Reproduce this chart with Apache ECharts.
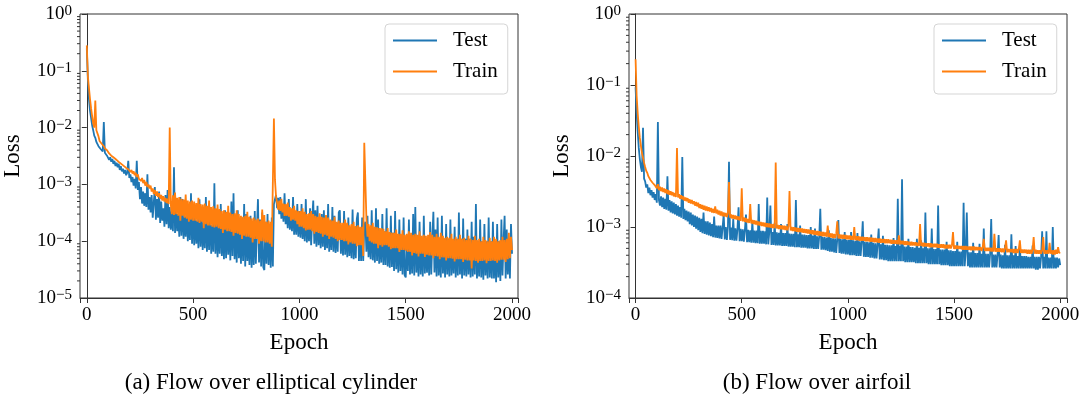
<!DOCTYPE html>
<html>
<head>
<meta charset="utf-8">
<script src="https://cdn.jsdelivr.net/npm/echarts@6/dist/echarts.min.js"></script>
<style>
  html, body { margin: 0; padding: 0; background: #fff; }
  #chart { width: 1080px; height: 396px; }
</style>
</head>
<body>
<div id="chart"></div>
<script>
// losses every 5 epochs (0..2000), one row = 100 epochs
var step = 5;
var epochs = [];
for (var e = 0; e <= 2000; e += step) epochs.push(e);

var xTicks = [0, 500, 1000, 1500, 2000];
var decadesA = [-5, -4, -3, -2, -1, 0];   // (a) y tick exponents
var decadesB = [-4, -3, -2, -1, 0];       // (b) y tick exponents

// (a) Flow over elliptical cylinder
var testA = [
  2.5e-1,7e-2,3.2e-2,2.0e-2,1.5e-2,1.1e-2,9e-3,7.2e-3,6.6e-3,5.6e-3,5.6e-3,4.7e-3,4.9e-3,4.2e-3,4.4e-3,3.8e-3,1.25e-2,3.6e-3,3.7e-3,3.2e-3,
  3.3e-3,2.7e-3,3.0e-3,2.5e-3,2.8e-3,2.3e-3,2.6e-3,2.1e-3,2.4e-3,2.0e-3,2.3e-3,1.8e-3,2.1e-3,1.7e-3,1.9e-3,1.55e-3,1.8e-3,1.45e-3,1.6e-3,2.6e-3,
  1.3e-3,1.5e-3,1.1e-3,1.35e-3,9.5e-4,1.25e-3,8.5e-4,2.6e-3,8e-4,1.1e-3,5.5e-4,9e-4,4.6e-4,7.5e-4,4.2e-4,7e-4,4.0e-4,1.5e-3,3.6e-4,6e-4,
  3.2e-4,6.5e-4,2.6e-4,4.8e-4,9e-4,2.4e-4,5.5e-4,2.6e-4,7.5e-4,2.1e-4,5e-4,2.3e-4,3.8e-4,1.8e-4,6.5e-4,2.0e-4,8e-4,1.7e-4,4.0e-4,1.6e-4,
  3.4e-4,1.5e-4,2.0e-3,1.4e-4,4.5e-4,1.5e-4,3.0e-4,1.2e-4,6.0e-4,1.25e-4,5.5e-4,1.1e-4,2.7e-4,1.2e-4,4.5e-4,1.0e-4,2.5e-4,1.05e-4,7.0e-4,9e-5,
  4.5e-4,8.5e-5,3.4e-4,9e-5,2.3e-4,7.5e-5,5.5e-4,8e-5,3.2e-4,7e-5,2.1e-4,7.5e-5,6e-4,6.5e-5,2.6e-4,7e-5,4.0e-4,6e-5,1.9e-4,6.5e-5,
  1.05e-3,6e-5,2.6e-4,5.2e-5,2.2e-4,6e-5,4.5e-4,5.5e-5,2.0e-4,4.8e-5,3.5e-4,5e-5,3.0e-4,5.8e-5,2.4e-4,4.6e-5,5.0e-4,5.5e-5,7.0e-4,4.8e-5,
  1.7e-4,4.2e-5,3.5e-4,5e-5,1.6e-4,4.0e-5,2.6e-4,4.5e-5,4.5e-4,3.6e-5,3.0e-4,4.5e-5,1.6e-4,3.8e-5,2.8e-4,3.4e-5,1.5e-4,3.8e-5,3.4e-4,4e-5,
  1.6e-4,5.5e-4,4.2e-5,2.4e-4,3.6e-5,3.2e-4,3.5e-5,3.1e-5,2.2e-4,4e-5,3.0e-4,3.8e-5,2.0e-4,3.4e-5,2.6e-4,3.6e-5,4.5e-4,5.5e-4,6.5e-4,3.8e-4,
  5.8e-4,3.0e-4,6.0e-4,2.5e-4,4.4e-4,2.2e-4,7.0e-4,2.0e-4,3.8e-4,1.7e-4,5.5e-4,1.6e-4,3.5e-4,1.5e-4,6.0e-4,1.3e-4,3.2e-4,1.3e-4,4.5e-4,1.2e-4,
  3.4e-4,1.15e-4,4.5e-4,1.1e-4,3.0e-4,1.0e-4,5.5e-4,9.5e-5,2.6e-4,1.0e-4,3.8e-4,8.5e-5,2.5e-4,5.2e-4,9e-5,3.5e-4,8e-5,4.2e-4,8.5e-5,2.3e-4,
  7.5e-5,3.0e-4,8e-5,3.5e-4,7e-5,2.2e-4,7.5e-5,4.5e-4,6.5e-5,2.2e-4,7e-5,4.0e-4,6.5e-5,2.8e-4,6.2e-5,2.1e-4,6.5e-5,3.2e-4,3.5e-4,6e-5,
  1.9e-4,5.6e-5,3.4e-4,5.8e-5,2.0e-4,5.2e-5,2.6e-4,5.5e-5,1.7e-4,5e-5,3.6e-4,4.8e-5,1.7e-4,5e-5,2.5e-4,3.2e-4,4.5e-5,1.7e-4,4.5e-5,2.6e-4,
  4.5e-5,1.8e-4,2.2e-4,6.5e-5,2.8e-4,5.2e-5,1.6e-4,4.8e-5,3.5e-4,4.6e-5,1.6e-4,4.2e-5,3.8e-4,4.5e-5,2.4e-4,4.0e-5,1.6e-4,4.2e-5,3.0e-4,3.8e-5,
  1.5e-4,3.8e-5,3.8e-4,3.6e-5,1.4e-4,3.4e-5,2.8e-4,3.5e-5,1.4e-4,3.0e-5,3.4e-4,3.2e-5,1.3e-4,2.8e-5,2.4e-4,3.0e-5,1.3e-4,2.6e-5,2.6e-4,2.5e-5,
  2.3e-5,1.2e-4,3.0e-5,2.4e-4,2.6e-5,1.2e-4,2.7e-5,3.0e-4,2.5e-5,4.0e-4,2.8e-5,1.1e-4,2.4e-5,2.2e-4,2.6e-5,1.1e-4,2.4e-5,2.8e-4,2.7e-5,1.1e-4,
  2.8e-5,1.1e-4,2.5e-5,2.2e-4,2.6e-5,1.1e-4,3.3e-4,2.8e-5,1.6e-4,2.4e-5,2.6e-4,2.5e-5,1.0e-4,2.3e-5,2.8e-4,2.7e-5,1.1e-4,2.3e-5,2.0e-4,2.6e-5,
  1.1e-4,2.4e-5,2.4e-4,2.5e-5,1.0e-4,2.7e-5,1.8e-4,2.3e-5,1.1e-4,2.5e-5,3.2e-4,2.6e-5,1.1e-4,2.2e-5,2.5e-4,2.5e-5,1.1e-4,2.4e-5,1.6e-4,2.6e-5,
  1.1e-4,2.3e-5,2.2e-4,2.4e-5,1.2e-4,2.6e-5,4.5e-4,2.2e-5,1.0e-4,2.4e-5,2.4e-4,2.3e-5,1.0e-4,2.1e-5,2.0e-4,2.5e-5,1.0e-4,2.2e-5,2.6e-4,2.3e-5,
  1.0e-4,2.2e-5,2.2e-4,2.2e-5,1.0e-4,1.9e-5,2.0e-4,2.3e-5,1.0e-4,2.0e-5,2.4e-4,2.5e-5,1.0e-4,2.8e-4,2.2e-5,1.6e-4,2.6e-5,1.1e-4,2.2e-5,2.0e-4,6e-5
];
var trainA = [
  2.8e-1,8e-2,5.0e-2,3.2e-2,2.2e-2,1.6e-2,1.2e-2,1.0e-2,3.0e-2,9e-3,9e-3,7e-3,5.8e-3,5.4e-3,5.2e-3,4.8e-3,4.7e-3,4.3e-3,4.4e-3,4.0e-3,
  4.0e-3,3.5e-3,3.7e-3,3.2e-3,3.4e-3,3.0e-3,3.2e-3,2.8e-3,3.0e-3,2.6e-3,2.8e-3,2.4e-3,2.6e-3,2.25e-3,2.4e-3,2.1e-3,2.2e-3,1.95e-3,2.1e-3,1.85e-3,
  1.95e-3,1.65e-3,1.8e-3,1.55e-3,1.7e-3,1.45e-3,1.6e-3,1.35e-3,1.5e-3,1.25e-3,1.35e-3,1.15e-3,1.3e-3,1.05e-3,1.2e-3,9.5e-4,1.1e-3,9e-4,1.0e-3,8.5e-4,
  9.5e-4,7.5e-4,8.5e-4,6.8e-4,8e-4,6.3e-4,7.5e-4,6e-4,7e-4,5.6e-4,6.5e-4,5.2e-4,6.2e-4,5e-4,5.8e-4,4.7e-4,5.6e-4,4.5e-4,1.0e-2,4.4e-4,
  3.0e-4,6.4e-4,2.9e-4,7.2e-4,3.0e-4,5.8e-4,2.8e-4,6.0e-4,2.3e-4,5.6e-4,2.8e-4,5.4e-4,2.6e-4,6.6e-4,2.5e-4,5.2e-4,2.2e-4,5.0e-4,2.4e-4,5.2e-4,
  2.3e-4,5.0e-4,2.3e-4,4.7e-4,2.2e-4,5.8e-4,2.1e-4,4.5e-4,2.2e-4,4.4e-4,1.7e-4,4.6e-4,2.0e-4,4.2e-4,1.9e-4,5.2e-4,1.9e-4,4.0e-4,1.8e-4,4.1e-4,
  1.75e-4,3.8e-4,1.8e-4,4.4e-4,1.7e-4,3.7e-4,1.65e-4,3.4e-4,1.4e-4,3.5e-4,1.6e-4,3.3e-4,1.5e-4,4.2e-4,1.5e-4,3.2e-4,1.45e-4,3.0e-4,1.25e-4,3.1e-4,
  1.4e-4,3.5e-4,1.35e-4,3.0e-4,1.3e-4,2.8e-4,1.1e-4,2.7e-4,1.25e-4,2.8e-4,1.2e-4,3.3e-4,1.2e-4,2.7e-4,1.15e-4,2.5e-4,9.5e-5,2.6e-4,1.1e-4,2.4e-4,
  1.1e-4,2.5e-4,9e-5,2.3e-4,1.0e-4,3.6e-4,1.0e-4,2.9e-4,9.5e-5,2.2e-4,9.5e-5,2.3e-4,9e-5,2.2e-4,8e-5,7.5e-5,1.45e-2,1.2e-3,6.0e-4,4.8e-4,
  3.6e-4,5.2e-4,3.4e-4,5.6e-4,3.2e-4,4.6e-4,2.8e-4,4.5e-4,2.8e-4,4.8e-4,2.7e-4,4.0e-4,2.3e-4,3.8e-4,2.4e-4,4.2e-4,2.3e-4,3.5e-4,2.0e-4,3.4e-4,
  1.8e-4,3.4e-4,1.8e-4,3.8e-4,1.7e-4,3.3e-4,1.55e-4,3.0e-4,1.6e-4,3.1e-4,1.6e-4,3.4e-4,1.5e-4,3.0e-4,1.35e-4,2.8e-4,1.45e-4,2.7e-4,1.4e-4,3.1e-4,
  1.35e-4,2.7e-4,1.2e-4,2.6e-4,1.3e-4,2.9e-4,1.25e-4,2.6e-4,1.1e-4,2.4e-4,1.2e-4,2.3e-4,1.15e-4,2.7e-4,1.1e-4,2.2e-4,1.0e-4,2.3e-4,1.05e-4,2.1e-4,
  1.05e-4,2.1e-4,1.0e-4,2.4e-4,1.0e-4,2.1e-4,8.8e-5,1.9e-4,9.5e-5,2.0e-4,9e-5,2.2e-4,9e-5,1.85e-4,8.2e-5,1.9e-4,8.5e-5,1.8e-4,8.5e-5,1.8e-4,
  5.5e-5,5.4e-3,5.6e-3,2.5e-4,1.2e-4,2.0e-4,1.0e-4,1.9e-4,9.5e-5,2.1e-4,9e-5,1.8e-4,9e-5,1.75e-4,7.5e-5,1.7e-4,8.5e-5,1.7e-4,8e-5,1.65e-4,
  8.5e-5,1.5e-4,8.5e-5,1.7e-4,8e-5,1.45e-4,7.2e-5,1.4e-4,7.5e-5,1.4e-4,7.5e-5,1.6e-4,7.5e-5,1.35e-4,6.5e-5,1.35e-4,7e-5,1.55e-4,7e-5,1.3e-4,
  6.8e-5,1.35e-4,6.5e-5,1.5e-4,6.5e-5,1.4e-4,5.6e-5,1.3e-4,6.2e-5,1.35e-4,6e-5,1.3e-4,5.4e-5,1.5e-4,6e-5,1.25e-4,6e-5,1.3e-4,5.3e-5,1.25e-4,
  5.8e-5,1.3e-4,5.6e-5,1.45e-4,5.6e-5,1.3e-4,5.0e-5,1.2e-4,5.5e-5,1.35e-4,5.4e-5,1.2e-4,4.8e-5,1.4e-4,5.2e-5,1.25e-4,5.2e-5,1.15e-4,4.6e-5,1.2e-4,
  5e-5,1.15e-4,5e-5,1.35e-4,4.9e-5,1.1e-4,4.4e-5,1.2e-4,4.8e-5,1.1e-4,4.8e-5,1.3e-4,4.8e-5,1.1e-4,4.3e-5,1.15e-4,4.7e-5,1.05e-4,4.6e-5,1.25e-4,
  4.6e-5,1.1e-4,3.3e-5,1.05e-4,4.6e-5,1.25e-4,4.5e-5,1.05e-4,4.2e-5,1.1e-4,4.5e-5,1.0e-4,4.5e-5,1.2e-4,4.6e-5,1.05e-4,4.1e-5,1.0e-4,4.5e-5,1.15e-4,
  4.5e-5,1.0e-4,4.6e-5,1.2e-4,4.5e-5,1.1e-4,4.2e-5,1.0e-4,4.6e-5,1.05e-4,4.7e-5,1.2e-4,4.7e-5,1.05e-4,4.3e-5,1.1e-4,4.8e-5,1.4e-4,5e-5,1.2e-4,7e-5
];

// (b) Flow over airfoil
var testB = [
  9.3e-2,4.0e-2,2.2e-2,1.3e-2,9e-3,7e-3,6e-3,2.5e-2,4.8e-3,4.4e-3,3.6e-3,4.0e-3,3.0e-3,3.6e-3,2.8e-3,3.3e-3,2.6e-3,3.1e-3,2.4e-3,2.9e-3,
  2.2e-3,3.0e-2,2.4e-3,2.0e-3,2.7e-3,1.9e-3,2.6e-3,1.8e-3,2.5e-3,1.75e-3,5.2e-3,1.7e-3,2.4e-3,1.6e-3,2.3e-3,1.55e-3,2.2e-3,1.5e-3,2.1e-3,1.45e-3,
  2.0e-3,1.4e-3,1.9e-3,1.35e-3,9.7e-3,1.3e-3,1.8e-3,1.25e-3,1.7e-3,1.2e-3,1.65e-3,1.1e-3,1.6e-3,1.05e-3,1.5e-3,1.0e-3,1.45e-3,9.5e-4,1.4e-3,9e-4,
  1.35e-3,8.5e-4,1.3e-3,8.2e-4,1.6e-3,8e-4,1.2e-3,7.8e-4,1.2e-3,7.6e-4,1.15e-3,7.4e-4,1.1e-3,7.2e-4,1.4e-3,7.1e-4,1.05e-3,7e-4,1.05e-3,6.9e-4,
  1.05e-3,6.8e-4,1.0e-3,1.5e-3,6.7e-4,1.0e-3,6.6e-4,1.0e-3,8.3e-3,6.6e-4,9.8e-4,6.5e-4,1.3e-3,6.4e-4,9.6e-4,6.4e-4,9.5e-4,1.9e-3,6.3e-4,9.4e-4,
  6.3e-4,9.3e-4,6.2e-4,9.2e-4,1.5e-3,6.1e-4,9.1e-4,6.1e-4,9e-4,6e-4,1.2e-3,6e-4,8.9e-4,5.9e-4,8.9e-4,5.9e-4,2.1e-3,5.8e-4,8.8e-4,5.8e-4,
  8.8e-4,5.8e-4,8.7e-4,5.7e-4,2.6e-3,5.7e-4,8.6e-4,2.0e-3,5.6e-4,8.5e-4,5.6e-4,1.15e-3,5.5e-4,8.4e-4,5.5e-4,8.3e-4,5.5e-4,1.1e-3,5.4e-4,8.2e-4,
  5.4e-4,8.2e-4,5.4e-4,1.1e-3,5.3e-4,8.1e-4,5.3e-4,8.0e-4,5.3e-4,8.0e-4,5.2e-4,2.4e-3,5.2e-4,7.9e-4,5.2e-4,1.05e-3,5.1e-4,7.8e-4,5.1e-4,7.8e-4,
  5.1e-4,7.7e-4,5.0e-4,7.7e-4,5.0e-4,1.0e-3,5.0e-4,7.6e-4,4.9e-4,9.5e-4,4.9e-4,7.4e-4,4.9e-4,7.4e-4,1.8e-3,4.8e-4,7.3e-4,4.8e-4,7.2e-4,4.7e-4,
  7.1e-4,4.6e-4,9e-4,4.5e-4,7.0e-4,4.5e-4,6.9e-4,4.4e-4,6.9e-4,4.3e-4,6.8e-4,1.25e-3,4.3e-4,6.8e-4,4.2e-4,6.7e-4,4.2e-4,8.5e-4,4.1e-4,6.6e-4,
  4.1e-4,6.6e-4,4.0e-4,8.5e-4,4.0e-4,6.5e-4,4.0e-4,6.4e-4,3.9e-4,8.2e-4,3.9e-4,6.3e-4,3.9e-4,6.3e-4,1.2e-3,3.8e-4,6.2e-4,3.8e-4,6.2e-4,3.8e-4,
  6.1e-4,3.7e-4,7.8e-4,3.7e-4,6.0e-4,3.6e-4,5.9e-4,3.6e-4,5.8e-4,9.5e-4,3.5e-4,5.7e-4,3.5e-4,7.5e-4,3.4e-4,5.6e-4,3.4e-4,5.6e-4,3.3e-4,5.5e-4,
  3.3e-4,5.5e-4,3.3e-4,7e-4,3.3e-4,5.4e-4,3.3e-4,2.5e-3,3.3e-4,5.4e-4,3.3e-4,4.7e-3,3.3e-4,5.3e-4,3.2e-4,5.3e-4,3.2e-4,6.8e-4,3.2e-4,5.2e-4,
  3.2e-4,5.2e-4,3.2e-4,5.1e-4,3.1e-4,6.8e-4,3.1e-4,5.1e-4,3.1e-4,6.5e-4,3.1e-4,5.0e-4,3.1e-4,1.6e-3,3.1e-4,5.0e-4,3.0e-4,5.0e-4,3.0e-4,9.5e-4,
  3.0e-4,4.9e-4,3.0e-4,4.9e-4,3.0e-4,2.0e-3,3.0e-4,4.8e-4,2.9e-4,4.8e-4,2.9e-4,4.8e-4,2.9e-4,6.2e-4,2.9e-4,4.7e-4,2.8e-4,4.7e-4,2.8e-4,4.6e-4,
  2.8e-4,4.6e-4,2.8e-4,6.2e-4,2.8e-4,4.5e-4,2.8e-4,4.5e-4,2.8e-4,2.2e-3,2.8e-4,4.5e-4,1.6e-3,2.8e-4,4.4e-4,2.7e-4,4.4e-4,2.7e-4,6.0e-4,2.7e-4,
  4.3e-4,2.7e-4,4.3e-4,2.7e-4,5.8e-4,2.7e-4,4.2e-4,2.7e-4,9.5e-4,2.7e-4,4.2e-4,2.7e-4,4.2e-4,2.7e-4,4.2e-4,1.3e-3,2.7e-4,4.1e-4,2.7e-4,4.1e-4,
  2.7e-4,4.1e-4,7.7e-4,2.7e-4,4.1e-4,2.6e-4,4.0e-4,2.6e-4,5.6e-4,2.6e-4,4.0e-4,2.6e-4,4.0e-4,2.6e-4,7.9e-4,2.6e-4,4.0e-4,2.6e-4,5.4e-4,2.6e-4,
  3.9e-4,2.6e-4,5.5e-4,2.6e-4,3.9e-4,2.6e-4,3.9e-4,2.6e-4,3.9e-4,2.6e-4,3.8e-4,2.6e-4,3.8e-4,2.6e-4,5.5e-4,2.6e-4,3.8e-4,2.5e-4,3.8e-4,2.5e-4,
  3.8e-4,2.6e-4,3.8e-4,8.7e-4,2.6e-4,3.8e-4,2.6e-4,8.7e-4,2.6e-4,3.7e-4,2.6e-4,3.7e-4,2.6e-4,1.0e-3,2.6e-4,3.7e-4,2.6e-4,3.7e-4,2.7e-4,3.6e-4,2.9e-4
];
var trainB = [
  2.3e-1,7e-2,4.0e-2,2.6e-2,1.8e-2,1.4e-2,1.1e-2,9.5e-3,8.0e-3,7.0e-3,6.2e-3,5.8e-3,5.2e-3,5.0e-3,4.6e-3,4.5e-3,4.2e-3,4.2e-3,3.9e-3,4.0e-3,
  3.5e-3,4.0e-3,3.3e-3,3.7e-3,3.2e-3,3.6e-3,3.1e-3,3.5e-3,3.0e-3,3.4e-3,2.9e-3,3.3e-3,2.85e-3,3.2e-3,2.8e-3,3.1e-3,2.7e-3,3.0e-3,2.65e-3,1.3e-2,
  2.6e-3,2.9e-3,2.5e-3,2.8e-3,2.45e-3,2.7e-3,2.35e-3,2.6e-3,2.3e-3,2.55e-3,2.2e-3,2.45e-3,2.15e-3,2.4e-3,2.1e-3,2.3e-3,2.0e-3,2.25e-3,1.95e-3,2.2e-3,
  1.85e-3,2.1e-3,1.8e-3,2.05e-3,1.75e-3,2.0e-3,1.7e-3,1.95e-3,1.68e-3,1.9e-3,1.65e-3,1.85e-3,1.6e-3,1.8e-3,1.58e-3,1.95e-3,1.55e-3,1.75e-3,1.5e-3,1.7e-3,
  1.45e-3,1.65e-3,1.42e-3,1.6e-3,1.4e-3,1.58e-3,1.38e-3,1.55e-3,4.3e-3,1.35e-3,1.5e-3,1.32e-3,1.48e-3,1.3e-3,1.45e-3,1.28e-3,1.42e-3,1.25e-3,1.4e-3,1.22e-3,
  3.5e-3,1.2e-3,1.36e-3,1.18e-3,1.34e-3,1.16e-3,1.3e-3,1.14e-3,2.1e-3,1.12e-3,1.26e-3,1.1e-3,1.24e-3,1.08e-3,1.22e-3,1.06e-3,1.2e-3,1.05e-3,1.18e-3,1.03e-3,
  1.16e-3,1.02e-3,1.15e-3,1.0e-3,1.13e-3,9.9e-4,1.12e-3,9.8e-4,1.1e-3,9.7e-4,1.09e-3,9.6e-4,8.1e-3,9.5e-4,1.07e-3,9.4e-4,1.06e-3,9.3e-4,1.05e-3,9.2e-4,
  1.04e-3,9.1e-4,1.03e-3,9e-4,1.02e-3,3.2e-3,8.9e-4,1.0e-3,8.8e-4,9.9e-4,8.7e-4,9.8e-4,8.6e-4,9.7e-4,8.5e-4,9.6e-4,8.4e-4,9.5e-4,8.3e-4,9.4e-4,
  8.2e-4,9.3e-4,8.1e-4,9.2e-4,8.0e-4,9.1e-4,7.9e-4,9.0e-4,7.8e-4,8.9e-4,7.7e-4,8.8e-4,7.6e-4,8.7e-4,7.5e-4,8.6e-4,7.4e-4,8.5e-4,7.4e-4,8.4e-4,
  7.3e-4,1.05e-3,7.2e-4,8.2e-4,7.1e-4,8.1e-4,7.0e-4,8.0e-4,7.0e-4,8.0e-4,1.2e-3,6.9e-4,7.9e-4,6.9e-4,7.8e-4,6.8e-4,7.8e-4,6.8e-4,7.7e-4,6.7e-4,
  7.6e-4,6.7e-4,7.6e-4,6.6e-4,7.5e-4,6.6e-4,1.0e-3,6.5e-4,7.4e-4,6.5e-4,7.4e-4,6.4e-4,7.3e-4,6.4e-4,7.3e-4,6.4e-4,7.2e-4,6.3e-4,7.2e-4,6.3e-4,
  7.1e-4,6.2e-4,7.1e-4,6.2e-4,7.0e-4,6.1e-4,7.0e-4,6.1e-4,6.9e-4,6.0e-4,6.9e-4,6.0e-4,6.8e-4,6.0e-4,6.8e-4,5.9e-4,6.7e-4,5.9e-4,6.7e-4,5.9e-4,
  6.6e-4,5.8e-4,6.6e-4,5.8e-4,6.5e-4,5.8e-4,6.5e-4,5.7e-4,7.6e-4,5.7e-4,6.4e-4,5.7e-4,6.4e-4,5.6e-4,6.3e-4,5.6e-4,6.3e-4,5.6e-4,6.2e-4,5.5e-4,
  6.2e-4,5.5e-4,6.1e-4,5.5e-4,6.1e-4,5.4e-4,6.0e-4,5.4e-4,1.1e-3,5.4e-4,6.0e-4,5.3e-4,6.0e-4,5.3e-4,5.9e-4,5.3e-4,5.9e-4,5.2e-4,5.9e-4,5.2e-4,
  5.8e-4,5.2e-4,5.8e-4,5.2e-4,5.8e-4,5.1e-4,5.7e-4,5.1e-4,5.7e-4,5.1e-4,5.7e-4,5.0e-4,5.6e-4,5.0e-4,5.6e-4,5.0e-4,5.6e-4,5.0e-4,5.5e-4,8.5e-4,
  4.9e-4,5.5e-4,4.9e-4,5.5e-4,4.9e-4,5.4e-4,4.9e-4,5.4e-4,4.8e-4,5.4e-4,4.8e-4,5.4e-4,4.8e-4,5.3e-4,4.8e-4,5.3e-4,4.7e-4,5.3e-4,4.7e-4,5.3e-4,
  4.7e-4,5.2e-4,4.7e-4,5.2e-4,4.7e-4,5.2e-4,4.6e-4,5.2e-4,6.8e-4,4.6e-4,5.1e-4,4.6e-4,5.1e-4,4.6e-4,5.1e-4,4.5e-4,5.1e-4,4.5e-4,8.0e-4,4.5e-4,
  5.0e-4,4.5e-4,5.0e-4,4.5e-4,5.0e-4,4.4e-4,5.0e-4,4.4e-4,5.0e-4,6.5e-4,4.4e-4,4.9e-4,4.4e-4,4.9e-4,4.4e-4,4.9e-4,4.3e-4,4.9e-4,4.3e-4,4.9e-4,
  4.3e-4,4.9e-4,6.5e-4,4.3e-4,4.8e-4,4.3e-4,4.8e-4,4.3e-4,4.8e-4,4.2e-4,4.8e-4,4.2e-4,4.8e-4,4.2e-4,4.8e-4,7.2e-4,4.2e-4,4.8e-4,4.2e-4,4.7e-4,
  4.2e-4,4.7e-4,4.2e-4,4.7e-4,7.2e-4,4.2e-4,4.7e-4,4.2e-4,4.7e-4,4.2e-4,6.0e-4,4.2e-4,4.7e-4,4.1e-4,4.7e-4,4.1e-4,4.8e-4,4.2e-4,5.2e-4,4.3e-4,4.4e-4
];

var font = 'Liberation Serif';
var axisColor = '#333';
var blue = '#1f77b4';
var orange = '#ff7f0e';

function pairs(vals) {
  return vals.map(function(v, i) { return [epochs[i], v]; });
}

// minor log ticks (2..9 in every decade)
function minorTicks(decades, xMin) {
  var out = [];
  for (var d = 0; d < decades.length - 1; d++) {
    for (var m = 2; m <= 9; m++) out.push([xMin, m * Math.pow(10, decades[d])]);
  }
  return out;
}

function expLabel(v) {
  var ex = Math.round(Math.log10(v));
  var s = ex < 0 ? '\u2212' + (-ex) : '' + ex;
  return '{b|10}{s|' + s + '}';
}

var gridLeft = [80, 629];
var xRange = [[-32, 2028], [-31, 2032]];
var yMin = [1e-5, 1e-4];
var decadesAll = [decadesA, decadesB];

var grids = [], xAxes = [], yAxes = [], series = [], legends = [], titles = [];
var captions = ['(a) Flow over elliptical cylinder', '(b) Flow over airfoil'];
var captionX = [266, 812];
var tests = [testA, testB], trains = [trainA, trainB];

for (var k = 0; k < 2; k++) {
  grids.push({
    left: gridLeft[k], top: 14, width: 438, height: 284,
    outerBoundsMode: 'none', containLabel: false,
    show: true, borderColor: axisColor, borderWidth: 1, backgroundColor: 'transparent'
  });
  xAxes.push({
    gridIndex: k, type: 'value', min: xRange[k][0], max: xRange[k][1], splitNumber: 4,
    name: 'Epoch', nameLocation: 'middle', nameGap: 33,
    nameTextStyle: { fontFamily: font, fontSize: 23, color: '#000' },
    splitLine: { show: false },
    axisLine: { lineStyle: { color: axisColor, width: 1 } },
    axisTick: { length: 5, lineStyle: { color: axisColor } },
    axisLabel: {
      margin: 8, fontFamily: font, fontSize: 19, color: '#000',
      formatter: function(v) { return xTicks.indexOf(v) >= 0 ? '' + v : ''; }
    }
  });
  yAxes.push({
    gridIndex: k, type: 'log', logBase: 10, min: yMin[k], max: 1,
    name: 'Loss', nameLocation: 'middle', nameGap: 56, nameRotate: 90,
    nameTextStyle: { fontFamily: font, fontSize: 23, color: '#000' },
    splitLine: { show: false },
    axisLine: { show: true, lineStyle: { color: axisColor, width: 1 } },
    axisTick: { show: true, length: 5, lineStyle: { color: axisColor } },
    axisLabel: {
      margin: 8, fontFamily: font, fontSize: 19, color: '#000',
      formatter: expLabel,
      rich: {
        b: { fontFamily: font, fontSize: 19, lineHeight: 20, color: '#000' },
        s: { fontFamily: font, fontSize: 15, lineHeight: 10, verticalAlign: 'top', color: '#000' }
      }
    }
  });
  series.push({
    name: 'Test', type: 'line', xAxisIndex: k, yAxisIndex: k,
    data: pairs(tests[k]), symbol: 'none', sampling: null,
    lineStyle: { color: blue, width: 1.8 }, itemStyle: { color: blue }
  });
  series.push({
    name: 'Train', type: 'line', xAxisIndex: k, yAxisIndex: k,
    data: pairs(trains[k]), symbol: 'none', sampling: null,
    lineStyle: { color: orange, width: 1.8 }, itemStyle: { color: orange }
  });
  series.push({
    type: 'custom', xAxisIndex: k, yAxisIndex: k, clip: false, silent: true,
    data: minorTicks(decadesAll[k], xRange[k][0]),
    renderItem: function(params, api) {
      var p = api.coord([api.value(0), api.value(1)]);
      return {
        type: 'line',
        shape: { x1: p[0] - 3, y1: p[1], x2: p[0], y2: p[1] },
        style: { stroke: axisColor, lineWidth: 1 }
      };
    }
  });
  legends.push({
    data: ['Test', 'Train'], orient: 'vertical', icon: 'rect',
    left: gridLeft[k] + 305, top: 24,
    padding: [6, 10, 12, 8], itemGap: 10, itemWidth: 44, itemHeight: 2,
    backgroundColor: 'rgba(255,255,255,0.8)', borderColor: '#d5d5d5', borderWidth: 1, borderRadius: 4,
    textStyle: { fontFamily: font, fontSize: 21, color: '#000', padding: [0, 0, 0, 11], lineHeight: 20 }
  });
  titles.push({
    text: captions[k], left: captionX[k], top: 366, textAlign: 'center',
    textStyle: { fontFamily: font, fontSize: 23, fontWeight: 'normal', color: '#000' }
  });
}

var chart = echarts.init(document.getElementById('chart'));
chart.setOption({
  animation: false,
  backgroundColor: '#fff',
  title: titles,
  legend: legends,
  grid: grids,
  xAxis: xAxes,
  yAxis: yAxes,
  series: series
});
</script>
</body>
</html>
